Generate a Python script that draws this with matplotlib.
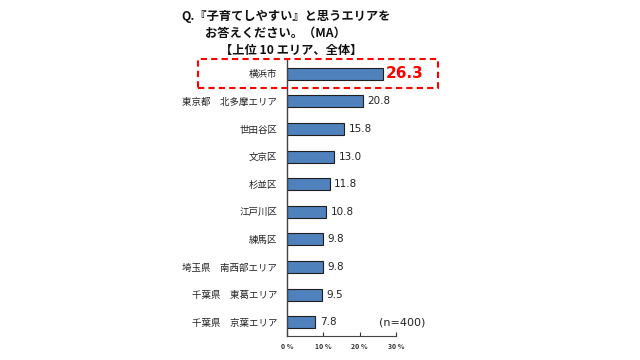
import matplotlib.pyplot as plt
from matplotlib.patches import Rectangle

plt.rcParams['font.family'] = ['Noto Sans CJK JP', 'DejaVu Sans']

# top 10 areas, % of respondents (n=400)
areas = ['横浜市', '東京都　北多摩エリア', '世田谷区', '文京区', '杉並区',
         '江戸川区', '練馬区', '埼玉県　南西部エリア', '千葉県　東葛エリア', '千葉県　京葉エリア']
values = [26.3, 20.8, 15.8, 13.0, 11.8, 10.8, 9.8, 9.8, 9.5, 7.8]
ticks = [0, 10, 20, 30]
tick_labels = ['0 %', '10 %', '20 %', '30 %']

fig = plt.figure(figsize=(6.4, 3.6), dpi=100)
W, H = 640, 360
ax = fig.add_axes([287 / W, 1 - 336 / H, 109 / W, 276 / H])

pos = list(range(len(areas)))
ax.barh(pos, values, height=0.43, color='#4F81BD', edgecolor='#1f1f1f', linewidth=0.8)
ax.set_ylim(len(areas) - 0.5, -0.5)
ax.set_xlim(0, 30)

for i, v in enumerate(values):
    if i == 0:
        ax.text(v + 0.8, i, f'{v:.1f}', va='center', ha='left', fontsize=11,
                fontweight='bold', color='#FF0000', family='DejaVu Sans')
    else:
        ax.text(v + 1.2, i, f'{v:.1f}', va='center', ha='left', fontsize=7.5,
                color='#222222', family='DejaVu Sans')

ax.set_yticks(pos)
ax.set_yticklabels(areas, fontsize=6.8, color='#222222')
ax.tick_params(axis='y', length=0, pad=7)
ax.set_xticks(ticks)
ax.set_xticklabels(tick_labels, fontsize=5, color='#333333', fontweight='bold')
ax.tick_params(axis='x', direction='in', length=3, width=0.8, pad=5, color='#333333')
for s in ['top', 'right']:
    ax.spines[s].set_visible(False)
ax.spines['left'].set_color('#444444')
ax.spines['bottom'].set_color('#444444')
ax.spines['left'].set_linewidth(1.0)
ax.spines['bottom'].set_linewidth(0.8)

ax.text(38, 9, '(n=400)', fontsize=8, color='#222222', va='center', ha='right',
        family='DejaVu Sans')

# highlight box around the first row
fig.patches.append(Rectangle((198 / W, 1 - 88 / H), 240 / W, 29 / H,
                             transform=fig.transFigure, fill=False,
                             edgecolor='#FF0000', linewidth=1.5, linestyle=(0, (3, 2))))

fig.text(181 / W, 1 - 16 / H, 'Q.『子育てしやすい』と思うエリアを', fontsize=8.8,
         fontweight='bold', va='center', ha='left', color='#111111')
fig.text(205 / W, 1 - 33 / H, 'お答えください。（MA）', fontsize=8.8,
         fontweight='bold', va='center', ha='left', color='#111111')
fig.text(220 / W, 1 - 50 / H, '【上位 10 エリア、全体】', fontsize=8.8,
         fontweight='bold', va='center', ha='left', color='#111111')

fig.savefig('out.png', dpi=100)
